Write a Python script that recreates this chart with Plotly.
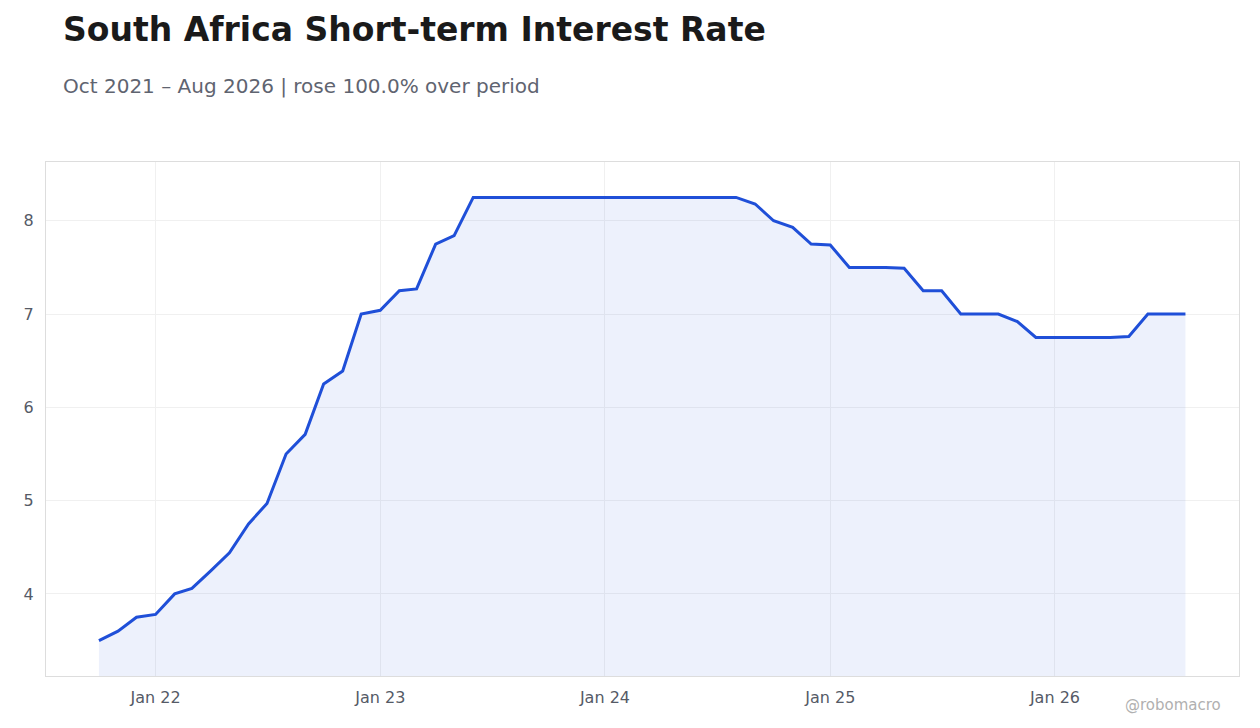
import plotly.graph_objects as go
import pandas as pd

dates = pd.date_range("2021-10-01", "2026-08-01", freq="MS")
values = [3.5, 3.6, 3.75, 3.78, 4.0, 4.06, 4.25, 4.44, 4.75, 4.97, 5.5, 5.71,
          6.25, 6.39, 7.0, 7.04, 7.25, 7.27, 7.75, 7.84,
          8.25, 8.25, 8.25, 8.25, 8.25, 8.25, 8.25, 8.25, 8.25, 8.25, 8.25, 8.25,
          8.25, 8.25, 8.25,
          8.18, 8.0, 7.93, 7.75, 7.74, 7.5, 7.5, 7.5, 7.49, 7.25, 7.25, 7.0, 7.0, 7.0,
          6.92, 6.75, 6.75, 6.75, 6.75, 6.75, 6.76, 7.0, 7.0, 7.0]
tick_vals = ["2022-01-01", "2023-01-01", "2024-01-01", "2025-01-01", "2026-01-01"]
tick_text = ["Jan 22", "Jan 23", "Jan 24", "Jan 25", "Jan 26"]

fig = go.Figure(go.Scatter(x=dates, y=values, mode="lines", fill="tozeroy",
                           line=dict(color="#1f4fd8", width=3),
                           fillcolor="rgba(31,79,216,0.08)"))
font = "DejaVu Sans"
fig.update_layout(
    width=1252, height=720, paper_bgcolor="white", plot_bgcolor="white",
    margin=dict(l=38, r=21, t=154, b=52), showlegend=False,
    font=dict(family=font, color="#555a66", size=15),
    xaxis=dict(tickvals=tick_vals, ticktext=tick_text, showgrid=True, gridcolor="#f0f0f0",
               showline=True, linecolor="#dddddd", mirror=True, ticks="", zeroline=False,
               range=["2021-07-07", "2026-10-27"], tickfont=dict(size=16),
               ticklabelstandoff=7),
    yaxis=dict(range=[3.12, 8.63], dtick=1, showgrid=True, gridcolor="#f0f0f0",
               showline=True, linecolor="#dddddd", mirror=True, zeroline=False,
               tickfont=dict(size=16), ticklabelstandoff=8),
    annotations=[
        dict(text="<b>South Africa Short-term Interest Rate</b>", x=0, y=1, xref="paper", yref="paper",
             xanchor="left", yanchor="middle", xshift=15, yshift=133, showarrow=False,
             font=dict(size=33, color="#1a1a1a")),
        dict(text="Oct 2021 – Aug 2026 | rose 100.0% over period", x=0, y=1, xref="paper", yref="paper",
             xanchor="left", yanchor="middle", xshift=15, yshift=76, showarrow=False,
             font=dict(size=20, color="#5f6470")),
        dict(text="@robomacro", x=1, y=0, xref="paper", yref="paper",
             xanchor="right", yanchor="top", yshift=-18, xshift=-16,
             showarrow=False, font=dict(size=15, color="#b0b0b0"))])
fig.write_html("out.html")
